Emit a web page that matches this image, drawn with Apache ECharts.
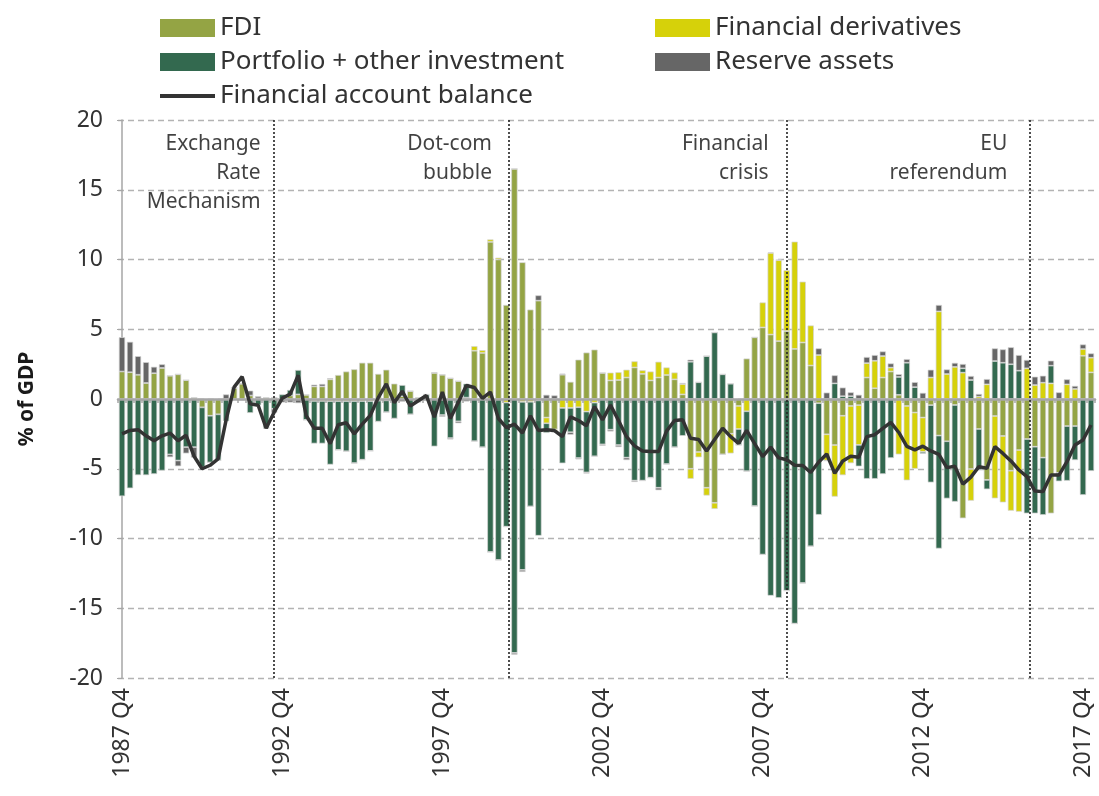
<!DOCTYPE html>
<html>
<head>
<meta charset="utf-8">
<title>Financial account</title>
<script src="https://cdn.jsdelivr.net/npm/echarts@6/dist/echarts.min.js"></script>
<style>
  html, body { margin: 0; padding: 0; background: #fff; }
  #chart { width: 1099px; height: 796px; }
</style>
</head>
<body>
<div id="chart"></div>
<script>
// quarters 1987 Q4 .. 2018 Q1
const quarters = ["1987 Q4"];
for (let y = 1988; y <= 2018; y++) {
  for (let q = 1; q <= 4; q++) {
    if (y === 2018 && q > 1) break;
    quarters.push(y + " Q" + q);
  }
}

// % of GDP
const fdi = [
  1.97, 1.92, 1.74, 1.15, 1.85, 2.23, 1.67, 1.77, 1.35, 0.1,
  -0.6, -1.2, -1.1, 0, 0.8, 1.1, 0.25, 0.05, 0.1, 0.1,
  0, 0.25, 0.33, 0.3, 0.9, 0.9, 1.41, 1.72, 1.97, 2.13,
  2.6, 2.6, 1.8, 2.1, 1.1, 0.2, 0.57, 0.1, 0, 1.87,
  1.74, 1.49, 1.28, 0.1, 3.46, 3.3, 11.26, 10.0, 6.74, 16.5,
  9.8, 6.41, 7.05, -1.33, -2.18, 1.74, 1.23, 2.82, 3.33, 3.54,
  1.87, 1.33, 1.36, 1.54, 2.26, 1.8, 1.33, 1.54, 1.72, 1.41,
  0.33, -5.0, -3.8, -6.36, -7.44, -3.97, -2.49, -0.5, 2.9, 4.42,
  5.13, 4.62, 4.15, 4.87, 3.59, 4.05, 2.4, -0.3, -2.53, -3.3,
  -1.2, -0.5, -0.44, 1.54, 0.77, 1.54, 1.97, 0.3, -0.5, -0.97,
  -1.33, -0.44, -2.62, -3.03, -0.43, -8.55, -5.02, -2.15, -5.8, -1.22,
  -2.65, -5.14, -3.66, -2.87, -3.42, -4.2, -8.2, -5.3, -1.94, -1.94,
  3.1, 1.91
];
const derivatives = [
  0, 0, 0, 0, 0, 0, 0, 0, 0, 0,
  0, 0, 0, 0, 0, 0, 0, 0, 0, 0,
  0, 0, 0, 0, -0.14, -0.14, -0.15, -0.15, -0.15, -0.15,
  -0.15, -0.15, -0.12, -0.1, -0.05, 0, 0, 0, 0, 0,
  0, 0, 0, 0, 0.33, 0.2, 0.18, 0.13, -0.25, 0,
  -0.2, -0.2, -0.1, -0.41, -0.18, -0.64, -0.64, -0.59, -0.9, -0.26,
  0, 0.56, 0.56, 0.56, 0.44, 0.26, 0.64, 1.13, 0.54, 0.49,
  0.74, -0.72, -0.38, -0.56, -0.44, 0, -1.41, -1.65, -0.88, 0,
  1.79, 5.85, 5.8, 4.36, 7.69, 4.36, 2.87, 3.15, -1.89, -3.7,
  -4.26, -4.1, -2.85, 1.03, 1.97, 1.54, 0.28, -3.97, -5.33, -4.03,
  -2.46, 1.54, 6.28, 1.79, 2.3, 1.89, -2.27, 0.17, 1.05, -5.9,
  -4.76, -2.87, -4.42, 2.2, 1.0, 1.17, 1.12, 0, 1.05, 0.72,
  0.48, 1.05
];
const portfolio = [
  -6.97, -6.4, -5.46, -5.46, -5.38, -5.13, -3.97, -4.41, -3.45, -3.45,
  -4.3, -3.35, -3.3, -1.6, 0, 0, -1.0, -0.45, -2.1, -0.7,
  0.33, 0.4, 1.75, -1.5, -3.05, -3.05, -4.55, -3.5, -3.6, -4.45,
  -4.2, -3.57, -1.5, -0.85, -1.35, 0.8, -1.1, -0.15, 0.33, -3.4,
  -1.15, -2.8, -1.6, 1.0, -3.03, -3.46, -10.97, -11.54, -8.9, -18.2,
  -12.05, -7.5, -9.7, -0.69, 0, -3.97, -1.74, -3.64, -4.36, -3.85,
  -3.25, -2.2, -3.3, -4.2, -5.85, -5.85, -5.64, -6.36, -4.67, -3.46,
  -2.64, 2.67, 1.2, 3.08, 4.77, 1.77, 1.1, -1.15, -4.3, -7.68,
  -11.15, -14.1, -14.26, -13.74, -16.1, -13.2, -10.56, -8.0, 0, 1.12,
  0.2, 0.2, -1.54, -5.72, -5.72, -5.38, -4.23, 1.28, 2.6, 0.85,
  -0.13, -5.54, -8.1, -4.1, -6.93, 0.31, 1.36, -2.94, -0.67, 2.72,
  2.6, 2.49, 2.03, -5.33, -4.78, -4.11, 1.27, -0.6, -3.92, -2.44,
  -6.88, -5.16
];
const reserves = [
  2.46, 2.18, 1.33, 1.49, 0.46, 0.26, -0.2, -0.41, -0.45, -0.75,
  0, 0, 0, 0.33, 0, 0, 0.35, 0.15, 0, -0.3,
  -0.25, -0.25, -0.3, 0, 0.13, 0.18, 0.08, 0, 0, 0,
  0, 0, 0, 0, 0, -0.2, 0, -0.1, 0, 0.05,
  -0.13, -0.1, -0.14, -0.18, 0, 0, 0, 0, 0, -0.13,
  -0.15, 0, 0.38, 0.3, 0.26, 0.08, -0.18, -0.1, -0.08, 0,
  -0.1, -0.13, -0.15, -0.18, -0.1, 0, 0, -0.18, 0, 0,
  0.08, 0.15, 0, 0, 0, 0, 0, 0, 0, 0,
  0, 0.05, 0.05, 0, 0, 0, 0, 0.48, 0.46, 0.58,
  0.62, 0.28, 0.3, 0.44, 0.41, 0.33, 0.3, 0.2, 0.26, 0.36,
  0.44, 0.56, 0.46, 0.33, 0.29, 0.31, 0.29, 0.19, 0.38, 0.91,
  0.96, 1.22, 1.12, 0.6, 0.6, 0.5, 0.36, 0.48, 0.36, 0.22,
  0.33, 0.31
];
const balance = [
  -2.5, -2.25, -2.2, -2.64, -3.0, -2.64, -2.44, -3.0, -2.6, -4.1,
  -5.0, -4.75, -4.3, -1.5, 0.85, 1.6, -0.35, -0.45, -2.1, -0.95,
  0.05, 0.35, 1.7, -1.2, -2.1, -2.1, -3.2, -1.85, -1.7, -2.5,
  -1.8, -1.18, 0.1, 1.08, -0.26, 0.56, -0.5, -0.13, 0.25, -1.3,
  0.5, -1.4, -0.23, 0.97, 0.82, 0.05, 0.5, -1.4, -2.05, -1.8,
  -2.44, -1.2, -2.26, -2.2, -2.26, -2.69, -1.28, -1.54, -1.92, -0.54,
  -1.5, -0.44, -1.54, -2.7, -3.36, -3.72, -3.77, -3.77, -2.3, -1.54,
  -1.49, -2.82, -2.9, -3.72, -2.9, -2.1, -2.7, -3.18, -2.25, -3.2,
  -4.13, -3.45, -4.22, -4.35, -4.75, -4.77, -5.27, -4.52, -3.94, -5.33,
  -4.45, -4.1, -4.18, -2.7, -2.56, -2.1, -1.67, -2.4, -3.4, -3.65,
  -3.38, -3.72, -3.97, -4.92, -4.82, -6.1, -5.6, -4.85, -4.97, -3.42,
  -3.9, -4.44, -5.09, -5.57, -6.6, -6.64, -5.45, -5.45, -4.49, -3.3,
  -2.94, -1.86
];

// event lines (position in quarters from 1987 Q4) and their notes
const eventLines = [18.95, 48.25, 83.0, 113.4];
const eventNotes = [
  [17.3, 19.35, "Exchange\nRate\nMechanism"],
  [46.2, 19.35, "Dot-com\nbubble"],
  [80.75, 19.35, "Financial\ncrisis"],
  [110.55, 19.35, "EU\nreferendum"]
];

const font = "Noto Sans";
const chart = echarts.init(document.getElementById("chart"));

const barStyle = (color) => ({
  color: color,
  borderColor: "#d4d4d4",
  borderWidth: 0.7
});

const legendText = { fontSize: 26, color: "#333", lineHeight: 26, fontFamily: font };

chart.setOption({
  animation: false,
  textStyle: { fontFamily: font },
  grid: { left: 118, right: 4, top: 120, bottom: 118, containLabel: false },
  legend: [
    {
      orient: "vertical",
      left: 155,
      top: 10,
      itemWidth: 55,
      itemHeight: 18,
      itemGap: 8,
      icon: "rect",
      itemStyle: { borderWidth: 0 },
      textStyle: legendText,
      data: [
        { name: "FDI" },
        { name: "Portfolio + other investment" },
        { name: "Financial account balance", icon: "path://M0,0 L55,0 L55,4 L0,4 Z" }
      ]
    },
    {
      orient: "vertical",
      left: 650,
      top: 10,
      itemWidth: 55,
      itemHeight: 18,
      itemGap: 8,
      icon: "rect",
      itemStyle: { borderWidth: 0 },
      textStyle: legendText,
      data: ["Financial derivatives", "Reserve assets"]
    }
  ],
  xAxis: [
    {
      type: "category",
      data: quarters,
      position: "bottom",
      axisLine: { show: false, onZero: false },
      axisTick: { show: false },
      splitLine: { show: false },
      axisLabel: {
        interval: 19,
        rotate: 90,
        fontSize: 23,
        color: "#333",
        margin: 10,
        fontFamily: font
      }
    },
    {
      type: "category",
      data: quarters,
      position: "bottom",
      z: 3,
      axisLine: { show: true, onZero: true, lineStyle: { color: "#a6a6a6", width: 2.5 } },
      axisTick: { show: true, interval: 0, length: 4, lineStyle: { color: "#a6a6a6", width: 1.5 } },
      axisLabel: { show: false },
      splitLine: { show: false }
    },
    {
      type: "value",
      min: -0.5,
      max: 121.5,
      show: false
    }
  ],
  yAxis: {
    type: "value",
    min: -20,
    max: 20,
    interval: 5,
    name: "% of GDP",
    nameLocation: "middle",
    nameRotate: 90,
    nameGap: 80,
    nameTextStyle: { fontSize: 21, fontWeight: "bold", color: "#1a1a1a", fontFamily: font },
    axisLine: { show: true, lineStyle: { color: "#a6a6a6", width: 1.5 } },
    axisTick: { show: true, length: 5, lineStyle: { color: "#a6a6a6" } },
    axisLabel: { fontSize: 23, color: "#333", margin: 15, fontFamily: font },
    splitLine: { lineStyle: { color: "#b3b3b3", type: [6, 4], width: 1.3 } }
  },
  series: [
    {
      name: "FDI",
      type: "bar",
      stack: "acct",
      barWidth: "78%",
      itemStyle: barStyle("#94a444"),
      data: fdi
    },
    {
      name: "Financial derivatives",
      type: "bar",
      stack: "acct",
      itemStyle: barStyle("#d6d10a"),
      data: derivatives
    },
    {
      name: "Portfolio + other investment",
      type: "bar",
      stack: "acct",
      itemStyle: barStyle("#33694f"),
      data: portfolio
    },
    {
      name: "Reserve assets",
      type: "bar",
      stack: "acct",
      itemStyle: barStyle("#666666"),
      data: reserves
    },
    {
      name: "Financial account balance",
      type: "line",
      z: 5,
      symbol: "none",
      lineStyle: { color: "#333333", width: 3.5 },
      itemStyle: { color: "#333333" },
      data: balance
    },
    {
      name: "events",
      type: "scatter",
      xAxisIndex: 2,
      symbolSize: 0,
      silent: true,
      z: 6,
      label: {
        show: true,
        position: "left",
        distance: 0,
        align: "right",
        verticalAlign: "top",
        fontSize: 21,
        lineHeight: 29,
        color: "#111",
        fontFamily: font,
        formatter: (p) => p.data[2]
      },
      data: eventNotes,
      markLine: {
        silent: true,
        symbol: "none",
        label: { show: false },
        lineStyle: { color: "#222", type: [2, 2], width: 1.6 },
        data: eventLines.map((x) => ({ xAxis: x }))
      }
    }
  ]
});
</script>
</body>
</html>
